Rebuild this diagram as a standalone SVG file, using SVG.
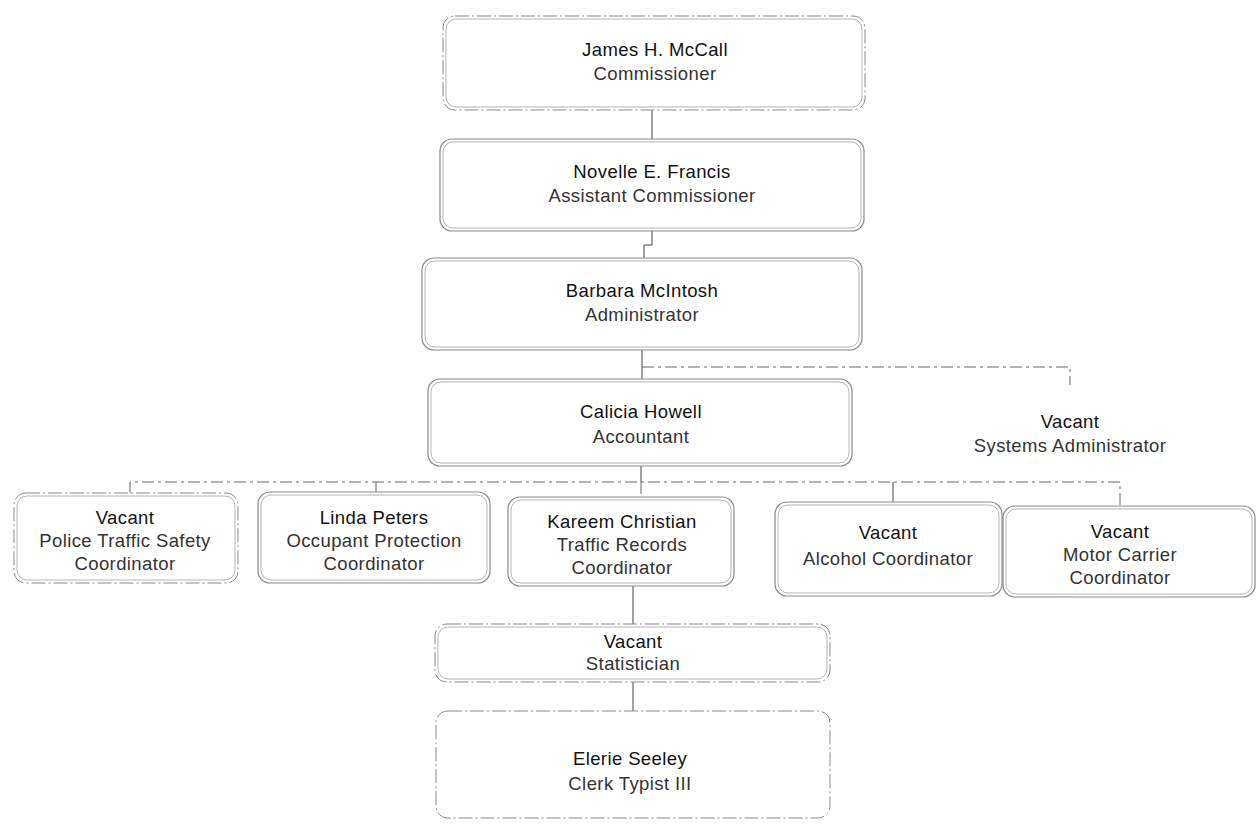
<svg xmlns="http://www.w3.org/2000/svg" width="1257" height="824" viewBox="0 0 1257 824">
<style>
.bo{fill:none;stroke:#8a8a8a;stroke-width:1.2}
.bi{fill:none;stroke:#b5b5b5;stroke-width:1}
.bd{fill:none;stroke:#8a8a8a;stroke-width:1;stroke-dasharray:14 3 2 3}
.n{font-family:"Liberation Sans",Arial,sans-serif;font-size:18.5px;fill:#111;text-anchor:middle;letter-spacing:0.4px}
.t{font-family:"Liberation Sans",Arial,sans-serif;font-size:18.5px;fill:#333;text-anchor:middle;letter-spacing:0.4px}
.c{fill:none;stroke:#444;stroke-width:1}
.cd{fill:none;stroke:#666;stroke-width:1;stroke-dasharray:12 4 3 4}
</style>
<rect width="1257" height="824" fill="#fff"/>
<g id="connectors">
<path class="c" d="M652,110 V139"/>
<path class="c" d="M652,231 V245 H644 V258"/>
<path class="c" d="M642,350 V379"/>
<path class="cd" d="M642,367 H1070 V385"/>
<path class="c" d="M641,466 V482"/>
<path class="cd" d="M130,493 V482 H1120 V506"/>
<path class="cd" d="M376,482 V492"/>
<path class="cd" d="M641,482 V497"/>
<path class="c" d="M893,482 V502"/>
<path class="c" d="M633,586 V624"/>
<path class="c" d="M633,682 V711"/>
</g>
<g id="mccall">
<rect class="bd" x="443" y="16" width="422" height="94" rx="12"/>
<rect class="bi" x="446" y="19" width="416" height="88" rx="10"/>
<text class="n" x="655" y="56">James H. McCall</text>
<text class="t" x="655" y="80">Commissioner</text>
</g>
<g id="francis">
<rect class="bo" x="440" y="139" width="424" height="92" rx="12"/>
<rect class="bi" x="443" y="142" width="418" height="86" rx="10"/>
<text class="n" x="652" y="178">Novelle E. Francis</text>
<text class="t" x="652" y="202">Assistant Commissioner</text>
</g>
<g id="mcintosh">
<rect class="bo" x="422" y="258" width="440" height="92" rx="12"/>
<rect class="bi" x="425" y="261" width="434" height="86" rx="10"/>
<text class="n" x="642" y="297">Barbara McIntosh</text>
<text class="t" x="642" y="321">Administrator</text>
</g>
<g id="howell">
<rect class="bo" x="428" y="379" width="424" height="87" rx="12"/>
<rect class="bi" x="431" y="382" width="418" height="81" rx="10"/>
<text class="n" x="641" y="418">Calicia Howell</text>
<text class="t" x="641" y="443">Accountant</text>
</g>
<g id="sysadmin">
<text class="n" x="1070" y="428">Vacant</text>
<text class="t" x="1070" y="452">Systems Administrator</text>
</g>
<g id="police">
<rect class="bd" x="14" y="493" width="224" height="90" rx="12"/>
<rect class="bi" x="17" y="496" width="218" height="84" rx="10"/>
<text class="n" x="125" y="524">Vacant</text>
<text class="t" x="125" y="547">Police Traffic Safety</text>
<text class="t" x="125" y="570">Coordinator</text>
</g>
<g id="peters">
<rect class="bo" x="258" y="492" width="232" height="91" rx="12"/>
<rect class="bi" x="261" y="495" width="226" height="85" rx="10"/>
<text class="n" x="374" y="524">Linda Peters</text>
<text class="t" x="374" y="547">Occupant Protection</text>
<text class="t" x="374" y="570">Coordinator</text>
</g>
<g id="christian">
<rect class="bo" x="508" y="497" width="226" height="89" rx="12"/>
<rect class="bi" x="511" y="500" width="220" height="83" rx="10"/>
<text class="n" x="622" y="528">Kareem Christian</text>
<text class="t" x="622" y="551">Traffic Records</text>
<text class="t" x="622" y="574">Coordinator</text>
</g>
<g id="alcohol">
<rect class="bo" x="775" y="502" width="227" height="94" rx="12"/>
<rect class="bi" x="778" y="505" width="221" height="88" rx="10"/>
<text class="n" x="888" y="539">Vacant</text>
<text class="t" x="888" y="565">Alcohol Coordinator</text>
</g>
<g id="motor">
<rect class="bo" x="1003" y="506" width="252" height="91" rx="12"/>
<rect class="bi" x="1006" y="509" width="246" height="85" rx="10"/>
<text class="n" x="1120" y="538">Vacant</text>
<text class="t" x="1120" y="561">Motor Carrier</text>
<text class="t" x="1120" y="584">Coordinator</text>
</g>
<g id="statistician">
<rect class="bd" x="435" y="624" width="395" height="58" rx="12"/>
<rect class="bi" x="438" y="627" width="389" height="52" rx="10"/>
<text class="n" x="633" y="648">Vacant</text>
<text class="t" x="633" y="670">Statistician</text>
</g>
<g id="seeley">
<rect class="bd" x="436" y="711" width="394" height="107" rx="12"/>
<text class="n" x="630" y="765">Elerie Seeley</text>
<text class="t" x="630" y="790">Clerk Typist III</text>
</g>
</svg>
